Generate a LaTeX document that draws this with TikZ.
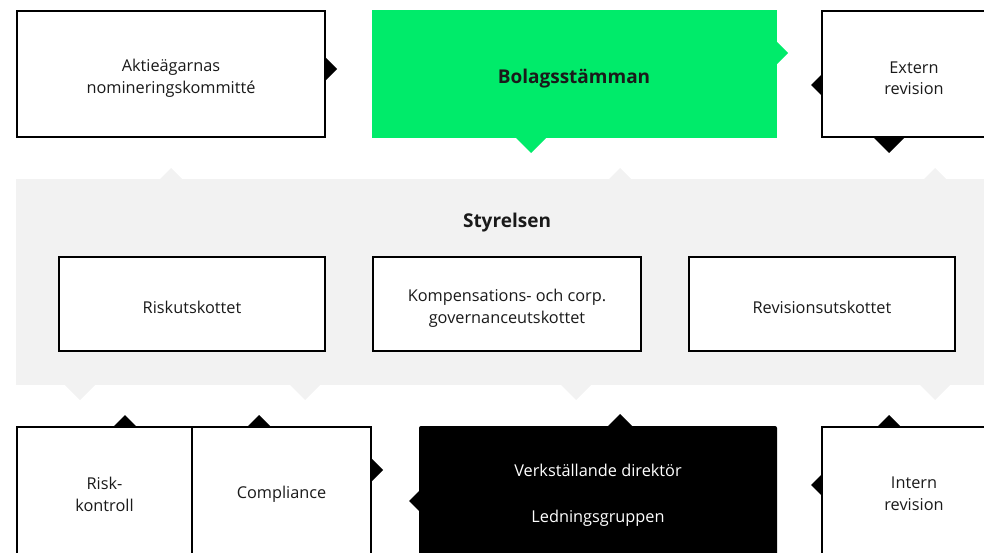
\documentclass[tikz,border=0pt]{standalone}
\usepackage{fontspec}
\setmainfont{Open Sans}
\usetikzlibrary{calc}
\definecolor{stammagron}{HTML}{00EB6A}
\definecolor{bandgra}{HTML}{F2F2F2}
\definecolor{textsvart}{HTML}{1A1A1A}
\tikzset{
  box/.style={draw=black, line width=2pt, fill=white, align=center, anchor=north west,
    inner sep=0pt, outer sep=0pt, text=textsvart, font=\fontsize{16.3}{21.8}\selectfont},
  fyllbox/.style={box, draw=none},
  sankt/.style={execute at begin node={\rule{0pt}{#1}}},
  sankt/.default=20pt,
  rubrik/.style={text=textsvart, font=\fontsize{19}{22}\selectfont\bfseries},
  notch/.pic={\fill (0,-#1) -- (#1,0) -- (0,#1) -- cycle;}
}
\begin{document}
\begin{tikzpicture}[x=1pt,y=-1pt]
            \useasboundingbox (0,0) rectangle (984,553);
            \clip (0,0) rectangle (984,553);

            %Styrelsen
            \node[fyllbox, fill=bandgra, minimum width=984, minimum height=206] (band) at (16,179) {};
            \node[rubrik] (styrelsen) at (507,223) {Styrelsen};
            \node[box, sankt, minimum width=266, minimum height=94] (riskutsk) at (59,257) {Riskutskottet};
            \node[box, sankt=42pt, minimum width=268, minimum height=94] (komp) at (373,257) {Kompensations- och corp.\\governanceutskottet};
            \node[box, sankt, minimum width=266, minimum height=94] (revutsk) at (689,257) {Revisionsutskottet};

            %Översta raden
            \node[box, sankt=42pt, minimum width=308, minimum height=126] (aktie) at (17,11) {Aktieägarnas\\nomineringskommitté};
            \node[fyllbox, fill=stammagron, minimum width=405, minimum height=128] (stamma) at (372,10) {};
            \node[rubrik] (stammatext) at (574,79) {Bolagsstämman};
            \node[box, sankt=42pt, minimum width=184, minimum height=126] (extern) at (822,11) {Extern\\revision};

            %Nedersta raden
            \node[box, minimum width=175, minimum height=134] (riskkontroll) at (17,427) {Risk-\\kontroll};
            \node[box, minimum width=179, minimum height=134] (compliance) at (192,427) {Compliance};
            \node[fyllbox, fill=black, text=white, rounded corners=2pt, minimum width=358, minimum height=140] (vd) at (419,426) {};
            \node[text=white, align=center, font=\fontsize{16.3}{21.8}\selectfont] (vdtext) at (598,495) {Verkställande direktör\\[24pt]Ledningsgruppen};
            \node[box, minimum width=184, minimum height=134] (intern) at (822,427) {Intern\\revision};

            %Spetsar
            \pic[black] at (325,69) {notch=12};
            \pic[stammagron] at (777,53) {notch=11};
            \pic[stammagron, rotate=-90] at (531,138) {notch=15};
            \pic[black, rotate=180] at (822,85) {notch=11};
            \pic[black, rotate=-90] at (889,137) {notch=16};

            \pic[bandgra, rotate=90] at (171,179) {notch=11};
            \pic[bandgra, rotate=90] at (620,179) {notch=11};
            \pic[bandgra, rotate=90] at (935,179) {notch=11};
            \pic[bandgra, rotate=-90] at (80,385) {notch=15};
            \pic[bandgra, rotate=-90] at (305,385) {notch=15};
            \pic[bandgra, rotate=-90] at (576,385) {notch=15};
            \pic[bandgra, rotate=-90] at (935,385) {notch=15};

            \pic[black, rotate=90] at (125,427) {notch=12};
            \pic[black, rotate=90] at (259,427) {notch=12};
            \pic[black, rotate=90] at (620,426) {notch=12};
            \pic[black, rotate=90] at (889,427) {notch=12};
            \pic[black] at (371,470) {notch=12};
            \pic[black, rotate=180] at (419,501) {notch=10};
            \pic[black, rotate=180] at (822,485) {notch=11};

        \end{tikzpicture}
\end{document}
